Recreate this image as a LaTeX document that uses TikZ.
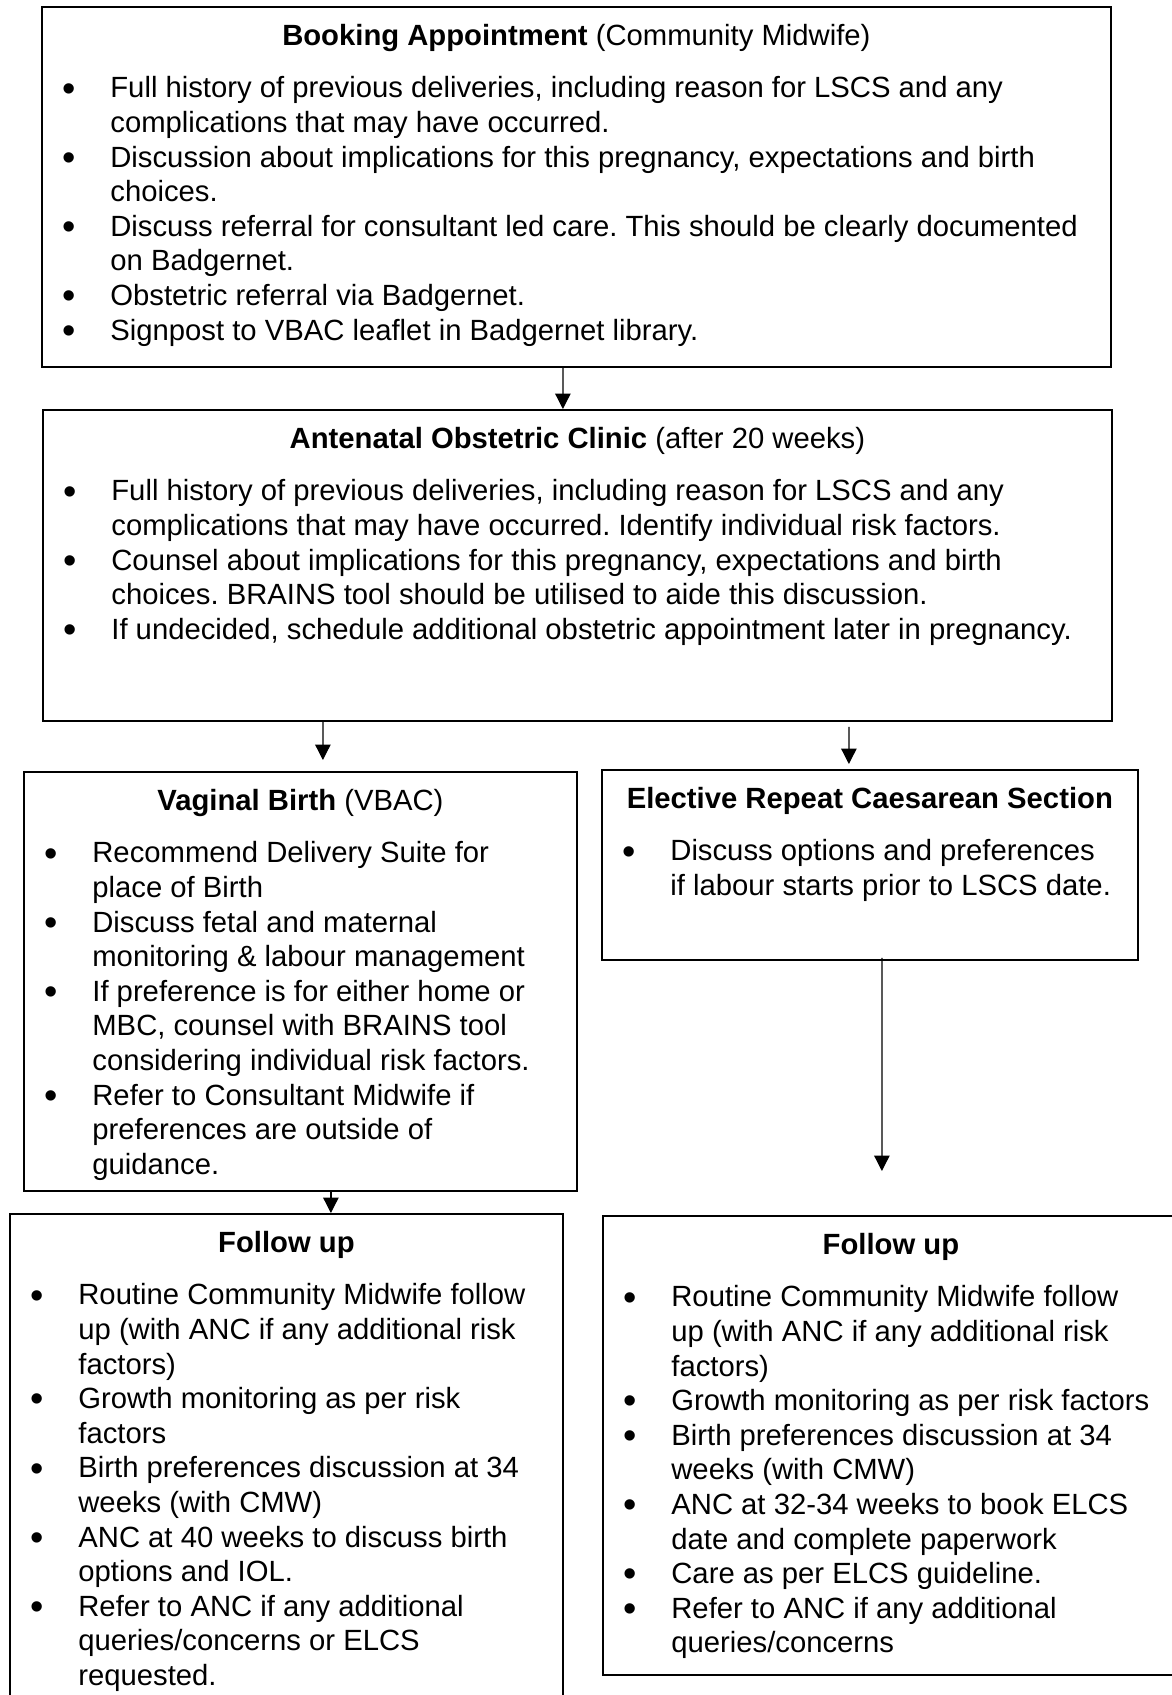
\documentclass[tikz,border=0pt]{standalone}
\usepackage{fontspec}
\usepackage{graphicx}
\setmainfont{Liberation Sans}
\usetikzlibrary{arrows.meta}

\newenvironment{pointlist}{%
  \begin{list}{\raisebox{-0.11em}{\scalebox{1.3}{\textbullet}}}{%
    \setlength{\leftmargin}{27.4pt}\setlength{\labelsep}{14.0pt}%
    \setlength{\labelwidth}{10pt}\setlength{\itemsep}{0pt}%
    \setlength{\parsep}{0pt}\setlength{\topsep}{0pt}\setlength{\partopsep}{0pt}}%
  \raggedright\frenchspacing}{\end{list}}
\newcommand{\boxhead}[1]{{\centering\rule{0pt}{15.6pt}#1\par}\vspace{6.96pt}}

\begin{document}
\begin{tikzpicture}[
    x=0.4pt, y=-0.4pt,
    stepbox/.style={draw, line width=0.7pt, anchor=north west, inner sep=0pt,
                    font=\fontsize{11.7pt}{13.84pt}\selectfont},
    flow/.style={-{Triangle[length=6.2pt,width=6.2pt]}, line width=0.5pt}
  ]
    \useasboundingbox (0,0) rectangle (1172,1695);
    \clip (0,0) rectangle (1172,1695);

    \node[stepbox] (b1) at (41,6) {\begin{minipage}[t][144pt][t]{427.6pt}
      \boxhead{\textbf{Booking Appointment} (Community Midwife)}
      \begin{pointlist}
        \item Full history of previous deliveries, including reason for LSCS and any\\
              complications that may have occurred.
        \item Discussion about implications for this pregnancy, expectations and birth\\
              choices.
        \item Discuss referral for consultant led care. This should be clearly documented\\
              on Badgernet.
        \item Obstetric referral via Badgernet.
        \item Signpost to VBAC leaflet in Badgernet library.
      \end{pointlist}
    \end{minipage}};

    \node[stepbox] (b2) at (42,409) {\begin{minipage}[t][124.4pt][t]{427.6pt}
      \boxhead{\textbf{Antenatal Obstetric Clinic} (after 20 weeks)}
      \begin{pointlist}
        \item Full history of previous deliveries, including reason for LSCS and any\\
              complications that may have occurred. Identify individual risk factors.
        \item Counsel about implications for this pregnancy, expectations and birth\\
              choices. BRAINS tool should be utilised to aide this discussion.
        \item If undecided, schedule additional obstetric appointment later in pregnancy.
      \end{pointlist}
    \end{minipage}};

    \node[stepbox] (b3) at (23,771) {\begin{minipage}[t][167.6pt][t]{221.2pt}
      \boxhead{\textbf{Vaginal Birth} (VBAC)}
      \begin{pointlist}
        \item Recommend Delivery Suite for\\ place of Birth
        \item Discuss fetal and maternal\\ monitoring \& labour management
        \item If preference is for either home or\\ MBC, counsel with BRAINS tool\\
              considering individual risk factors.
        \item Refer to Consultant Midwife if\\ preferences are outside of\\ guidance.
      \end{pointlist}
    \end{minipage}};

    \node[stepbox] (b4) at (601,769) {\begin{minipage}[t][76pt][t]{214.4pt}
      \boxhead{\textbf{Elective Repeat Caesarean Section}}
      \begin{pointlist}
        \item Discuss options and preferences\\ if labour starts prior to LSCS date.
      \end{pointlist}
    \end{minipage}};

    \node[stepbox] (b5) at (9,1213) {\begin{minipage}[t][208pt][t]{221.2pt}
      \boxhead{\textbf{Follow up}}
      \begin{pointlist}
        \item Routine Community Midwife follow\\ up (with ANC if any additional risk\\ factors)
        \item Growth monitoring as per risk\\ factors
        \item Birth preferences discussion at 34\\ weeks (with CMW)
        \item ANC at 40 weeks to discuss birth\\ options and IOL.
        \item Refer to ANC if any additional\\ queries/concerns or ELCS\\ requested.
      \end{pointlist}
    \end{minipage}};

    \node[stepbox] (b6) at (602,1215) {\begin{minipage}[t][183.6pt][t]{230.4pt}
      \boxhead{\textbf{Follow up}}
      \begin{pointlist}
        \item Routine Community Midwife follow\\ up (with ANC if any additional risk\\ factors)
        \item Growth monitoring as per risk factors
        \item Birth preferences discussion at 34\\ weeks (with CMW)
        \item ANC at 32-34 weeks to book ELCS\\ date and complete paperwork
        \item Care as per ELCS guideline.
        \item Refer to ANC if any additional\\ queries/concerns
      \end{pointlist}
    \end{minipage}};

    \draw[flow] ([xshift=-5.4pt]b1.south) -- ([xshift=-5.8pt]b2.north);
    \draw[flow] ([xshift=-101.8pt]b2.south) -- ([xshift=9pt,yshift=4.4pt]b3.north);
    \draw[flow] ([xshift=108.6pt,yshift=-2pt]b2.south) -- ([xshift=-8.4pt,yshift=2pt]b4.north);
    \draw[flow] ([xshift=4.8pt,yshift=1.2pt]b4.south) -- ([xshift=-3.6pt,yshift=17.6pt]b6.north);
    \draw[flow] ([xshift=12.2pt]b3.south) -- ([xshift=17.8pt]b5.north);
\end{tikzpicture}
\end{document}
